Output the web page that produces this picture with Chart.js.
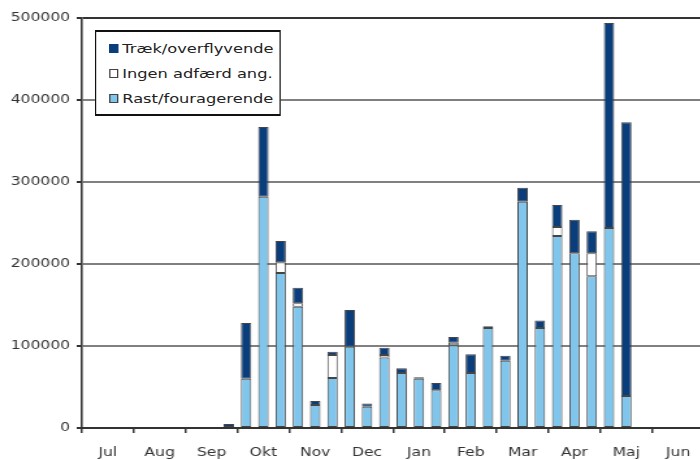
<!DOCTYPE html>
<html>
<head>
<meta charset="utf-8">
<script src="https://cdn.jsdelivr.net/npm/chart.js@4.4.1/dist/chart.umd.min.js"></script>
<style>
  html, body { margin: 0; padding: 0; background: #fff; overflow: hidden; width: 700px; height: 460px; }
  /* the original picture is stretched sideways, so the whole chart is too */
  #wrap { position: relative; width: 548px; height: 460px; transform: scaleX(1.3); transform-origin: 0 0; }
  #legend {
    position: absolute; left: 73px; top: 30px; width: 141px; height: 78px;
    background: #fff; border: 2px solid #111; border-left-width: 1.5px; border-right-width: 1.5px;
    font: 12.5px "DejaVu Sans", sans-serif; color: #222; padding-top: 4px; box-sizing: content-box;
  }
  #legend div { height: 25px; line-height: 25px; white-space: nowrap; padding-left: 10px; }
  #legend span { display: inline-block; width: 5px; height: 7px; margin-right: 3px; border: 1px solid #444; vertical-align: 0px; }
</style>
</head>
<body>
<div id="wrap">
  <canvas id="chart" width="548" height="460"></canvas>
  <div id="legend"></div>
</div>
<script>
// 10-day periods, Jul to Jun (3 per month)
const months = ["Jul", "Aug", "Sep", "Okt", "Nov", "Dec", "Jan", "Feb", "Mar", "Apr", "Maj", "Jun"];
const periods = [];
months.forEach((m) => { periods.push(m + " 1", m + " 2", m + " 3"); });

const seriesNames = ["Rast/fouragerende", "Ingen adfærd ang.", "Træk/overflyvende"];
const seriesColors = ["#80c6ec", "#ffffff", "#0a3d7c"];

// Jul..Aug all empty, data starts in late Sep
const rast = [
    null, null, null, null, null, null,
    null, null, null,
    60000, 282000, 189000,
    148000, 28000, 61000,
    99000, 26000, 86000,
    67000, 60000, 46000,
    101000, 67000, 122000,
    82000, 276000, 122000,
    234000, 213000, 185000,
    244000, 39000, null,
    null, null, null,
];
const ingen = [
    null, null, null, null, null, null,
    null, null, null,
    null, null, 13000,
    4000, null, 28000,
    null, null, 3000,
    null, null, null,
    3000, null, null,
    null, null, null,
    11000, null, 28000,
    null, null, null,
    null, null, null,
];
const traek = [
    null, null, null, null, null, null,
    null, null, 5000,
    68000, 85000, 26000,
    19000, 5000, 4000,
    45000, 4000, 9000,
    6000, 2000, 9000,
    7000, 23000, 2000,
    6000, 17000, 9000,
    27000, 41000, 27000,
    250000, 334000, null,
    null, null, null,
];
const yTicks = [0, 100000, 200000, 300000, 400000, 500000];

const seriesData = [rast, ingen, traek];
const datasets = seriesData.map((d, i) => ({
    label: seriesNames[i],
    data: d,
    backgroundColor: seriesColors[i],
    borderColor: "#444",
    borderWidth: 1,
    borderSkipped: false,
    barPercentage: 0.6,
    categoryPercentage: 1,
}));

// legend box, top item is the top of the stack
const legendEl = document.getElementById("legend");
for (let i = seriesNames.length - 1; i >= 0; i--) {
    const row = document.createElement("div");
    const sw = document.createElement("span");
    sw.style.background = seriesColors[i];
    if (i === 2) sw.style.borderColor = seriesColors[i];
    row.appendChild(sw);
    row.appendChild(document.createTextNode(seriesNames[i]));
    legendEl.appendChild(row);
}

const font = { family: "'DejaVu Sans', sans-serif", size: 12 };

new Chart(document.getElementById("chart"), {
    type: "bar",
    data: { labels: periods, datasets: datasets },
    options: {
        responsive: false,
        animation: false,
        devicePixelRatio: 1,
        layout: { padding: { top: 18, right: 3, left: 0, bottom: 0 } },
        plugins: { legend: { display: false }, tooltip: { enabled: false } },
        scales: {
            x: {
                stacked: true,
                offset: true,
                grid: {
                    offset: true,
                    drawOnChartArea: false,
                    tickLength: 5,
                    lineWidth: 1.5,
                    color: (ctx) => (ctx.index % 3 === 0 ? "#333" : "rgba(0,0,0,0)"),
                },
                border: { display: true, color: "#333", width: 2 },
                ticks: {
                    autoSkip: false,
                    maxRotation: 0,
                    minRotation: 0,
                    padding: 13,
                    color: "#333",
                    font: font,
                    callback: (v, i) => (i % 3 === 1 ? months[Math.floor(i / 3)] : ""),
                },
                afterFit: (scale) => { scale.height = 32; },
            },
            y: {
                stacked: true,
                min: yTicks[0],
                max: yTicks[yTicks.length - 1],
                afterBuildTicks: (scale) => { scale.ticks = yTicks.map((v) => ({ value: v })); },
                grid: {
                    tickLength: 4,
                    lineWidth: 2,
                    color: (ctx) => (ctx.index === yTicks.length - 1 ? "#333" : "#808080"),
                    tickColor: "#333",
                },
                border: { display: true, color: "#333", width: 1.6 },
                ticks: {
                    padding: 5,
                    color: "#333",
                    font: font,
                    callback: (v) => String(v),
                },
                afterFit: (scale) => { scale.width = 63; },
            },
        },
    },
});
</script>
</body>
</html>
